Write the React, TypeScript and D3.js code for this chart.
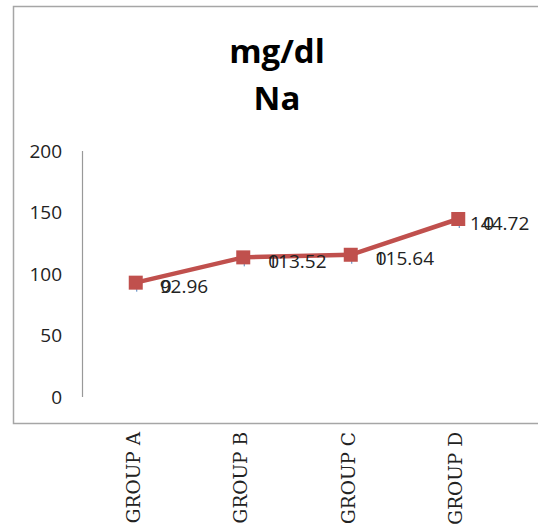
import React from "react";
import * as d3 from "d3";

const categories = ["GROUP A", "GROUP B", "GROUP C", "GROUP D"];
const naValues = [92.96, 113.52, 115.64, 144.72];
const secondLabels = ["0", "0", "0", "0"];
const yTicks = [0, 50, 100, 150, 200];
const titleLines = ["mg/dl", "Na"];

const W = 538;
const H = 527;

export default function App() {
  const x = d3.scaleBand<string>().domain(categories).range([82, 512]).padding(0);
  const y = d3.scaleLinear().domain([0, 200]).range([397, 151]);
  const cx = (c: string) => (x(c) as number) + x.bandwidth() / 2;
  const line = d3
    .line<number>()
    .x((_, i) => cx(categories[i]))
    .y((v) => y(v));
  const sans = "'Open Sans', 'Liberation Sans', sans-serif";
  const red = "#C0504D";
  const labelSize = 19;

  return (
    <svg
      width={W}
      height={H}
      style={{ position: "absolute", left: 0, top: 0, background: "#fff" }}
    >
      <rect x={0} y={0} width={W} height={H} fill="#fff" />
      {/* frame */}
      <path d={`M${W},6.5 H13.5 V423.5 H${W}`} fill="none" stroke="#A6A6A6" strokeWidth={1.5} />
      {/* title */}
      {titleLines.map((t, i) => (
        <text
          key={t}
          x={277}
          y={63 + i * 47}
          textAnchor="middle"
          fontFamily={sans}
          fontWeight={700}
          fontSize={33}
          fill="#000"
        >
          {t}
        </text>
      ))}
      {/* y axis */}
      <line x1={82.5} x2={82.5} y1={y(200)} y2={y(0)} stroke="#999" strokeWidth={1.2} />
      {yTicks.map((t) => (
        <text
          key={t}
          x={62}
          y={y(t)}
          dy="0.35em"
          textAnchor="end"
          fontFamily={sans}
          fontSize={19}
          fill="#222"
        >
          {t}
        </text>
      ))}
      {/* category labels */}
      {categories.map((c) => (
        <text
          key={c}
          transform={`translate(${cx(c) + 4},432) rotate(-90)`}
          textAnchor="end"
          fontFamily="'DejaVu Serif', serif"
          fontSize={18.5}
          fill="#222"
        >
          {c}
        </text>
      ))}
      {/* line */}
      <path d={line(naValues) || ""} fill="none" stroke={red} strokeWidth={4.5} />
      {naValues.map((v, i) => (
        <g key={i}>
          <line
            x1={cx(categories[i]) + 1}
            x2={cx(categories[i]) + 1}
            y1={y(v) + 5}
            y2={y(v) + 9}
            stroke="#4F81BD"
            strokeWidth={1}
          />
          <rect x={cx(categories[i]) - 7} y={y(v) - 7} width={14} height={14} fill={red} />
        </g>
      ))}
      {/* data labels */}
      {naValues.map((v, i) => {
        const px = cx(categories[i]);
        const lx = Math.min(px + 24, 470);
        return (
          <g key={i}>
            <text
              x={lx}
              y={y(v) + 4}
              dy="0.35em"
              fontFamily={sans}
              fontSize={labelSize}
              fill="#222"
            >
              {v.toFixed(2)}
            </text>
            <text
              x={px + 25}
              y={y(v) + 4}
              dy="0.35em"
              fontFamily={sans}
              fontSize={labelSize}
              fill="#222"
            >
              {secondLabels[i]}
            </text>
          </g>
        );
      })}
    </svg>
  );
}
